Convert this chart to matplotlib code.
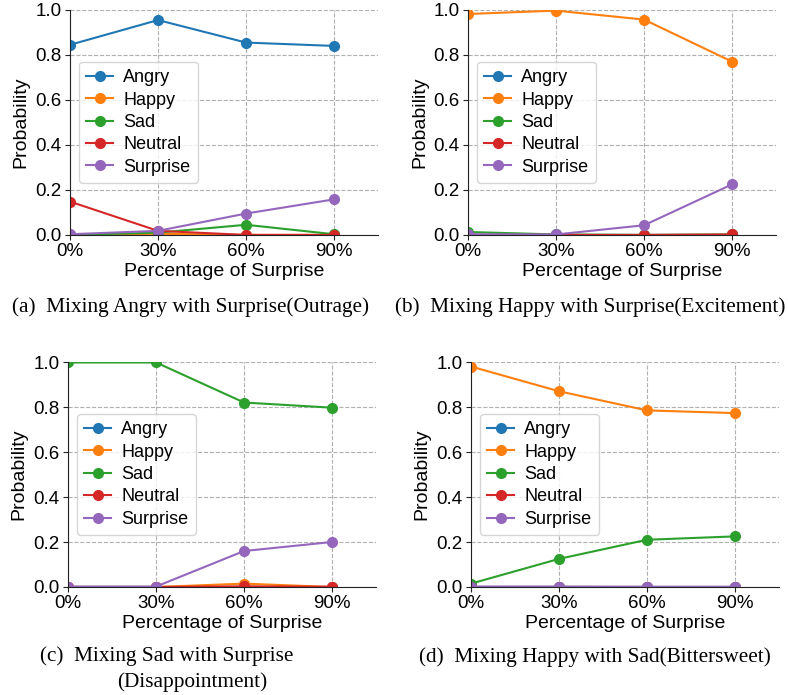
"""Emotion mixing probabilities, four panels with subcaptions."""

import matplotlib
matplotlib.use("Agg")
import matplotlib.pyplot as plt

EMOTIONS = ["Angry", "Happy", "Sad", "Neutral", "Surprise"]
COLORS = ["#1f77b4", "#ff7f0e", "#2ca02c", "#d62728", "#9467bd"]
MIX_PCT = [0, 30, 60, 90]
TICK_LABELS = ["0%", "30%", "60%", "90%"]

# (a) Angry + Surprise
outrage_angry = [0.845, 0.955, 0.855, 0.840]
outrage_happy = [0.000, 0.005, 0.000, 0.000]
outrage_sad = [0.000, 0.010, 0.045, 0.003]
outrage_neutral = [0.148, 0.018, 0.000, 0.000]
outrage_surprise = [0.003, 0.018, 0.095, 0.158]

# (b) Happy + Surprise
excite_angry = [0.000, 0.000, 0.000, 0.000]
excite_happy = [0.982, 0.997, 0.957, 0.770]
excite_sad = [0.013, 0.002, 0.000, 0.002]
excite_neutral = [0.000, 0.000, 0.000, 0.002]
excite_surprise = [0.003, 0.002, 0.043, 0.225]

# (c) Sad + Surprise
disap_angry = [0.000, 0.000, 0.000, 0.000]
disap_happy = [0.000, 0.000, 0.015, 0.000]
disap_sad = [0.998, 0.998, 0.820, 0.797]
disap_neutral = [0.000, 0.000, 0.003, 0.001]
disap_surprise = [0.002, 0.002, 0.160, 0.200]

# (d) Happy + Sad
bitter_angry = [0.000, 0.000, 0.000, 0.000]
bitter_happy = [0.980, 0.870, 0.785, 0.773]
bitter_sad = [0.015, 0.125, 0.210, 0.225]
bitter_neutral = [0.000, 0.000, 0.000, 0.000]
bitter_surprise = [0.002, 0.002, 0.001, 0.001]

PANELS = [
    ([outrage_angry, outrage_happy, outrage_sad, outrage_neutral, outrage_surprise],
     [0.0888, 0.662, 0.391, 0.3237]),
    ([excite_angry, excite_happy, excite_sad, excite_neutral, excite_surprise],
     [0.594, 0.662, 0.391, 0.3237]),
    ([disap_angry, disap_happy, disap_sad, disap_neutral, disap_surprise],
     [0.0863, 0.1554, 0.391, 0.3237]),
    ([bitter_angry, bitter_happy, bitter_sad, bitter_neutral, bitter_surprise],
     [0.5977, 0.1554, 0.391, 0.3237]),
]

SANS = ["Liberation Sans", "DejaVu Sans"]
SERIF = ["Liberation Serif", "DejaVu Serif"]

fig = plt.figure(figsize=(7.88, 6.95), dpi=100)

for series, rect in PANELS:
    ax = fig.add_axes(rect)
    for name, vals, color in zip(EMOTIONS, series, COLORS):
        ax.plot(MIX_PCT, vals, marker="o", markersize=7, lw=1.5, color=color, label=name)
    ax.set_xlim(0, 105)
    ax.set_ylim(0, 1.0)
    ax.set_xticks(MIX_PCT)
    ax.set_xticklabels(TICK_LABELS, family=SANS, fontsize=13.5)
    ax.set_yticks([0, 0.2, 0.4, 0.6, 0.8, 1.0])
    ax.set_yticklabels(["0.0", "0.2", "0.4", "0.6", "0.8", "1.0"], family=SANS, fontsize=13.5)
    ax.tick_params(length=3.5, width=0.8, pad=2.5, color="#222222")
    ax.grid(True, ls="--", lw=0.8, color="#b0b0b0")
    ax.set_axisbelow(True)
    for side in ("top", "right"):
        ax.spines[side].set_visible(False)
    for side in ("left", "bottom"):
        ax.spines[side].set_color("#222222")
    ax.set_xlabel("Percentage of Surprise", family=SANS, fontsize=14, labelpad=2)
    ax.set_ylabel("Probability", family=SANS, fontsize=14, labelpad=4)
    ax.legend(loc="center left", prop={"family": SANS, "size": 13},
              handlelength=1.5, handletextpad=0.55, labelspacing=0.3, borderpad=0.4)

cap = dict(family=SERIF, fontsize=15.3, ha="center", va="center")
fig.text(190 / 788, 1 - 307 / 695, "(a)  Mixing Angry with Surprise(Outrage)", **cap)
fig.text(590 / 788, 1 - 307 / 695, "(b)  Mixing Happy with Surprise(Excitement)", **cap)
fig.text(167 / 788, 1 - 656 / 695, "(c)  Mixing Sad with Surprise", **cap)
fig.text(192 / 788, 1 - 682 / 695, "(Disappointment)", **cap)
fig.text(595 / 788, 1 - 657 / 695, "(d)  Mixing Happy with Sad(Bittersweet)", **cap)

fig.savefig("out.png", dpi=100)
